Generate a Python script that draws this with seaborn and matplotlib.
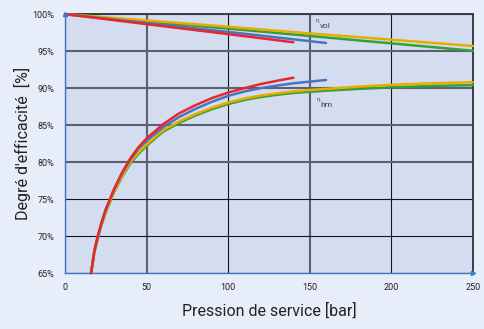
import matplotlib
matplotlib.use("Agg")
import matplotlib.pyplot as plt
import seaborn as sns
import pandas as pd

# Hydromechanical efficiency curves (pressure in bar, efficiency in %)
pressure_hm = [16, 18, 20, 22.5, 25, 30, 35, 40, 45, 50, 60, 70, 80, 90,
               100, 110, 120, 130, 140, 150, 160, 180, 200, 225, 250]
hm_red = [65.0, 68.0, 69.9, 71.9, 73.6, 76.3, 78.6, 80.5, 82.0, 83.2, 85.1,
          86.6, 87.7, 88.65, 89.4, 90.0, 90.55, 91.0, 91.4]
hm_blue = [65.0, 68.0, 69.9, 71.9, 73.6, 76.3, 78.5, 80.3, 81.8, 82.9, 84.7,
           86.1, 87.2, 88.15, 88.95, 89.55, 90.0, 90.35, 90.65, 90.88, 91.1]
hm_yellow = [65.0, 67.9, 69.7, 71.7, 73.3, 76.0, 78.1, 80.0, 81.3, 82.4, 84.3,
             85.5, 86.5, 87.35, 88.05, 88.6, 89.0, 89.3, 89.55, 89.75, 89.9,
             90.2, 90.45, 90.65, 90.8]
hm_green = [65.0, 67.8, 69.6, 71.6, 73.2, 75.9, 78.0, 79.8, 81.1, 82.2, 84.1,
            85.3, 86.3, 87.15, 87.85, 88.4, 88.8, 89.1, 89.35, 89.5, 89.65,
            89.9, 90.1, 90.3, 90.4]

# Volumetric efficiency curves
vol_red_p = [0, 50, 100, 140]
vol_red = [100.0, 98.65, 97.3, 96.2]
vol_blue_p = [0, 50, 100, 160]
vol_blue = [100.0, 98.8, 97.6, 96.1]
vol_long_p = [0, 50, 100, 150, 200, 250]
vol_yellow = [100.0, 99.15, 98.3, 97.4, 96.55, 95.7]
vol_green = [100.0, 99.0, 98.05, 97.05, 96.05, 95.05]

x_ticks = [0, 50, 100, 150, 200, 250]
y_ticks = [65, 70, 75, 80, 85, 90, 95, 100]

colors = {"green": "#34a036", "yellow": "#e6ad00", "blue": "#4a72c2", "red": "#e6282a"}

rows = []
def add(series, kind, xs, ys):
    for x, y in zip(xs, ys):
        rows.append({"series": series, "kind": kind, "pressure": x, "eff": y})

add("green", "hm", pressure_hm, hm_green)
add("yellow", "hm", pressure_hm, hm_yellow)
add("blue", "hm", pressure_hm, hm_blue)
add("red", "hm", pressure_hm, hm_red)
add("green", "vol", vol_long_p, vol_green)
add("yellow", "vol", vol_long_p, vol_yellow)
add("blue", "vol", vol_blue_p, vol_blue)
add("red", "vol", vol_red_p, vol_red)
df = pd.DataFrame(rows)

sns.set_theme(style="white")
plt.rcParams["font.family"] = ["Roboto", "DejaVu Sans"]

fig = plt.figure(figsize=(4.85, 3.29), dpi=100, facecolor="#e8eef9")
ax = fig.add_axes([0.134, 0.170, 0.841, 0.787])
ax.set_facecolor("#d4dcf0")

sns.lineplot(data=df, x="pressure", y="eff", hue="series", units="kind",
             estimator=None, sort=False, palette=colors,
             hue_order=["green", "yellow", "blue", "red"],
             linewidth=1.8, legend=False, ax=ax)
for line in ax.lines:
    line.set_clip_on(False)
    line.set_zorder(5)

ax.set_xlim(0, 250)
ax.set_ylim(65, 100)
ax.set_xticks(x_ticks)
ax.set_yticks(y_ticks)
ax.set_xticklabels([str(t) for t in x_ticks], fontsize=6.5, color="#222222")
ax.set_yticklabels([f"{t}%" for t in y_ticks], fontsize=6.5, color="#222222")
ax.tick_params(axis="both", direction="out", length=2.5, width=0.8,
               color="#333333", pad=5)

# grid: some lines rendered dark grey and heavier, others thin black
ax.grid(True, zorder=1)
heavy = {"x": [50, 150], "y": [80, 85, 90, 95]}
for t, gl in zip(x_ticks, ax.xaxis.get_gridlines()):
    if t in heavy["x"]:
        gl.set_color("#5c6070"); gl.set_linewidth(1.5)
    else:
        gl.set_color("#151515"); gl.set_linewidth(0.8)
for t, gl in zip(y_ticks, ax.yaxis.get_gridlines()):
    if t in heavy["y"]:
        gl.set_color("#5c6070"); gl.set_linewidth(1.5)
    else:
        gl.set_color("#151515"); gl.set_linewidth(0.8)

for side in ["top", "right"]:
    ax.spines[side].set_color("#3a3d48")
    ax.spines[side].set_linewidth(1.4)
for side in ["left", "bottom"]:
    ax.spines[side].set_color("#3b78c8")
    ax.spines[side].set_linewidth(1.0)
ax.plot(0, 1, marker="^", markersize=3, color="#3b78c8",
        transform=ax.transAxes, clip_on=False, zorder=6)
ax.plot(1, 0, marker=">", markersize=3, color="#3b78c8",
        transform=ax.transAxes, clip_on=False, zorder=6)

ax.set_xlabel("Pression de service [bar]", fontsize=11.5, color="#222222", labelpad=7)
ax.set_ylabel("Degré d'efficacité  [%]", fontsize=11.5, color="#222222", labelpad=1.5)

# curve family labels
ax.text(153.5, 99.1, "η", fontsize=4.5, color="#444444", ha="left", va="center")
ax.text(156.5, 98.4, "vol", fontsize=6, color="#444444", ha="left", va="center")
ax.text(154.0, 88.5, "η", fontsize=4.5, color="#444444", ha="left", va="center")
ax.text(156.5, 87.7, "hm", fontsize=6, color="#444444", ha="left", va="center")

fig.savefig("out.png", dpi=100, facecolor=fig.get_facecolor())
